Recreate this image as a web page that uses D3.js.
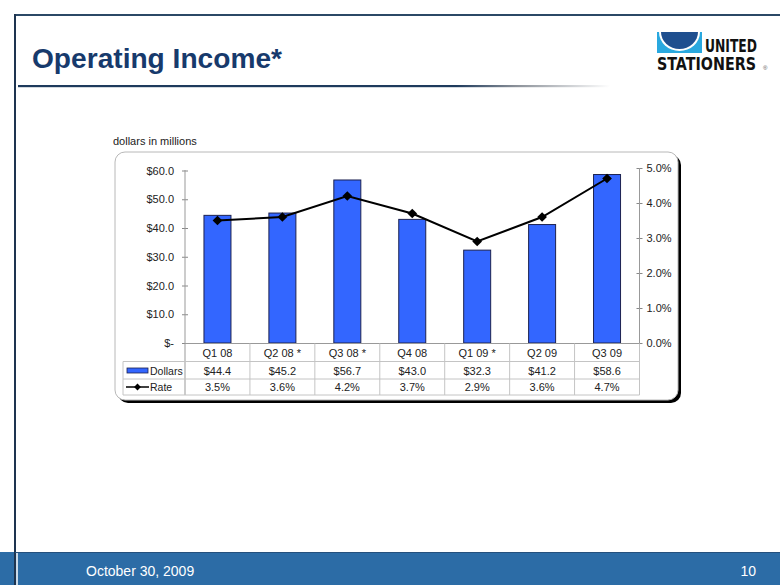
<!DOCTYPE html>
<html><head><meta charset="utf-8">
<script src="https://cdn.jsdelivr.net/npm/d3@7"></script>
<style>
html,body{margin:0;padding:0;background:#fff;}
svg{display:block;font-family:Arial,"Liberation Sans",sans-serif;}
</style></head>
<body>
<svg id="c" width="780" height="585"></svg>
<script>
const categories = ["Q1 08","Q2 08 *","Q3 08 *","Q4 08","Q1 09 *","Q2 09","Q3 09"];
const dollars = [44.4,45.2,56.7,43.0,32.3,41.2,58.6];
const rate = [3.5,3.6,4.2,3.7,2.9,3.6,4.7];
const dollarTicks = [0,10,20,30,40,50,60];
const rateTicks = [0,1,2,3,4,5];
const seriesNames = ["Dollars","Rate"];

const svg = d3.select("#c");

// defs
const defs = svg.append("defs");
const g1 = defs.append("linearGradient").attr("id","ul").attr("x1","0").attr("x2","1").attr("y1","0").attr("y2","0");
g1.append("stop").attr("offset","0.74").attr("stop-color","#1e3a5c");
g1.append("stop").attr("offset","0.84").attr("stop-color","#8a9098");
g1.append("stop").attr("offset","1").attr("stop-color","#ffffff");

// slide frame
svg.append("rect").attr("x",0).attr("y",552).attr("width",780).attr("height",33).attr("fill","#2c6ca6");
svg.append("line").attr("x1",15).attr("x2",780).attr("y1",15).attr("y2",15).attr("stroke","#2b4866").attr("stroke-width",2);
svg.append("line").attr("x1",15).attr("x2",15).attr("y1",14).attr("y2",585).attr("stroke","#1e3450").attr("stroke-width",2);
svg.append("line").attr("x1",17).attr("x2",17).attr("y1",552).attr("y2",585).attr("stroke","#ffffff").attr("stroke-width",1.5);
svg.append("line").attr("x1",15).attr("x2",780).attr("y1",552.5).attr("y2",552.5).attr("stroke","#24507d").attr("stroke-width",1);
svg.append("rect").attr("x",18).attr("y",85).attr("width",592).attr("height",2.2).attr("fill","url(#ul)");

// title
svg.append("text").attr("x",32).attr("y",68).attr("font-size",27).attr("font-weight","bold")
  .attr("textLength",250).attr("lengthAdjust","spacingAndGlyphs")
  .attr("fill","#173a6c").text("Operating Income*");

// footer
svg.append("text").attr("x",86).attr("y",576).attr("font-size",14).attr("fill","#ffffff").text("October 30, 2009");
svg.append("text").attr("x",756).attr("y",576).attr("font-size",14).attr("fill","#ffffff").attr("text-anchor","end").text("10");

// logo
const lg = svg.append("g");
lg.append("rect").attr("x",657).attr("y",32).attr("width",45).attr("height",21).attr("fill","#29a8df");
lg.append("path").attr("d","M659,32 A20.5,19 0 0 0 700,32 Z").attr("fill","#ffffff");
lg.append("path").attr("d","M661,32 A18.5,17 0 0 0 698,32 Z").attr("fill","#1f4f8f");
lg.append("text").attr("x",705).attr("y",52).attr("font-size",17).attr("font-weight","900")
  .attr("font-family","'DejaVu Sans Condensed','Liberation Sans Narrow',Arial,sans-serif")
  .attr("textLength",52).attr("lengthAdjust","spacingAndGlyphs").attr("fill","#111").text("UNITED");
lg.append("text").attr("x",657).attr("y",70).attr("font-size",17).attr("font-weight","900")
  .attr("font-family","'DejaVu Sans Condensed','Liberation Sans Narrow',Arial,sans-serif")
  .attr("textLength",99).attr("lengthAdjust","spacingAndGlyphs").attr("fill","#111").text("STATIONERS");
lg.append("text").attr("x",763).attr("y",70).attr("font-size",6).attr("fill","#555").text("®");

// chart box
svg.append("text").attr("x",113).attr("y",145).attr("font-size",11).attr("fill","#222").text("dollars in millions");
svg.append("rect").attr("x",118).attr("y",155).attr("width",563).attr("height",248).attr("rx",10).attr("fill","#000");
svg.append("rect").attr("x",115).attr("y",152).attr("width",563).attr("height",248).attr("rx",10)
  .attr("fill","#fff").attr("stroke","#b8b8b8").attr("stroke-width",1);

// scales
const x0 = 185, x1 = 639.5;
const x = d3.scaleBand().domain(categories).range([x0,x1]);
const yL = d3.scaleLinear().domain([0,60]).range([343,170.5]);
const yR = d3.scaleLinear().domain([0,5]).range([343,168]);

// axes
const axL = d3.axisLeft(yL).tickValues(dollarTicks).tickSize(5)
  .tickFormat(d => d===0 ? "$-" : "$" + d.toFixed(1));
const gL = svg.append("g").attr("transform",`translate(${x0},0)`).call(axL);
gL.select(".domain").remove();
gL.selectAll(".tick line").attr("x1",-3).attr("x2",3).attr("stroke","#888");
gL.selectAll(".tick text").attr("x",-11).attr("font-size",11).attr("fill","#222").attr("font-family","Arial,'Liberation Sans',sans-serif");
svg.append("line").attr("x1",x0).attr("x2",x0).attr("y1",170).attr("y2",395).attr("stroke","#999");

const axR = d3.axisRight(yR).tickValues(rateTicks).tickSize(5)
  .tickFormat(d => d.toFixed(1) + "%");
const gR = svg.append("g").attr("transform",`translate(${x1},0)`).call(axR);
gR.select(".domain").remove();
gR.selectAll(".tick line").attr("x1",-3).attr("x2",3).attr("stroke","#888");
gR.selectAll(".tick text").attr("x",7).attr("font-size",11).attr("fill","#222").attr("font-family","Arial,'Liberation Sans',sans-serif");
svg.append("line").attr("x1",x1).attr("x2",x1).attr("y1",168).attr("y2",343).attr("stroke","#999");

// bars
const bw = 27;
svg.append("g").selectAll("rect").data(dollars).join("rect")
  .attr("x",(d,i)=>x(categories[i]) + x.bandwidth()/2 - bw/2)
  .attr("y",d=>yL(d))
  .attr("width",bw)
  .attr("height",d=>yL(0)-yL(d))
  .attr("fill","#3366ff").attr("stroke","#1c2250").attr("stroke-width",1);

// baseline
svg.append("line").attr("x1",x0).attr("x2",x1).attr("y1",343.5).attr("y2",343.5).attr("stroke","#999");

// line
const line = d3.line().x((d,i)=>x(categories[i])+x.bandwidth()/2).y(d=>yR(d));
svg.append("path").datum(rate).attr("d",line).attr("fill","none").attr("stroke","#000").attr("stroke-width",2);
const diamond = d3.symbol().type(d3.symbolDiamond2).size(60);
svg.append("g").selectAll("path").data(rate).join("path")
  .attr("transform",(d,i)=>`translate(${x(categories[i])+x.bandwidth()/2},${yR(d)})`)
  .attr("d",diamond).attr("fill","#000");

// data table
const rowY = [343.5, 361.5, 379, 395];
const tLeft = 123;
const tg = svg.append("g").attr("stroke","#c4c4c4").attr("stroke-width",1);
tg.append("line").attr("x1",tLeft).attr("x2",x1).attr("y1",rowY[1]).attr("y2",rowY[1]);
tg.append("line").attr("x1",tLeft).attr("x2",x1).attr("y1",rowY[2]).attr("y2",rowY[2]);
tg.append("line").attr("x1",tLeft).attr("x2",x1).attr("y1",rowY[3]).attr("y2",rowY[3]);
tg.append("line").attr("x1",tLeft).attr("x2",tLeft).attr("y1",rowY[1]).attr("y2",rowY[3]);
categories.forEach((c,i)=>{
  const xe = x(c) + x.bandwidth();
  tg.append("line").attr("x1",xe).attr("x2",xe).attr("y1",rowY[0]).attr("y2",rowY[3]);
});

const tt = svg.append("g").attr("font-size",11).attr("fill","#222").attr("text-anchor","middle");
categories.forEach((c,i)=>{
  const cx = x(c) + x.bandwidth()/2;
  tt.append("text").attr("x",cx).attr("y",357).text(c);
  tt.append("text").attr("x",cx).attr("y",374.5).text("$" + dollars[i].toFixed(1));
  tt.append("text").attr("x",cx).attr("y",391).text(rate[i].toFixed(1) + "%");
});

// legend keys
svg.append("rect").attr("x",127).attr("y",368).attr("width",21).attr("height",5).attr("fill","#3366ff").attr("stroke","#1c2250").attr("stroke-width",0.8);
svg.append("text").attr("x",150).attr("y",374.5).attr("font-size",10.5).attr("fill","#222").text(seriesNames[0]);
svg.append("line").attr("x1",126).attr("x2",149).attr("y1",387).attr("y2",387).attr("stroke","#000").attr("stroke-width",1.5);
svg.append("path").attr("transform","translate(137.5,387)").attr("d",d3.symbol().type(d3.symbolDiamond2).size(30)).attr("fill","#000");
svg.append("text").attr("x",150).attr("y",391).attr("font-size",10.5).attr("fill","#222").text(seriesNames[1]);
</script>
</body></html>
